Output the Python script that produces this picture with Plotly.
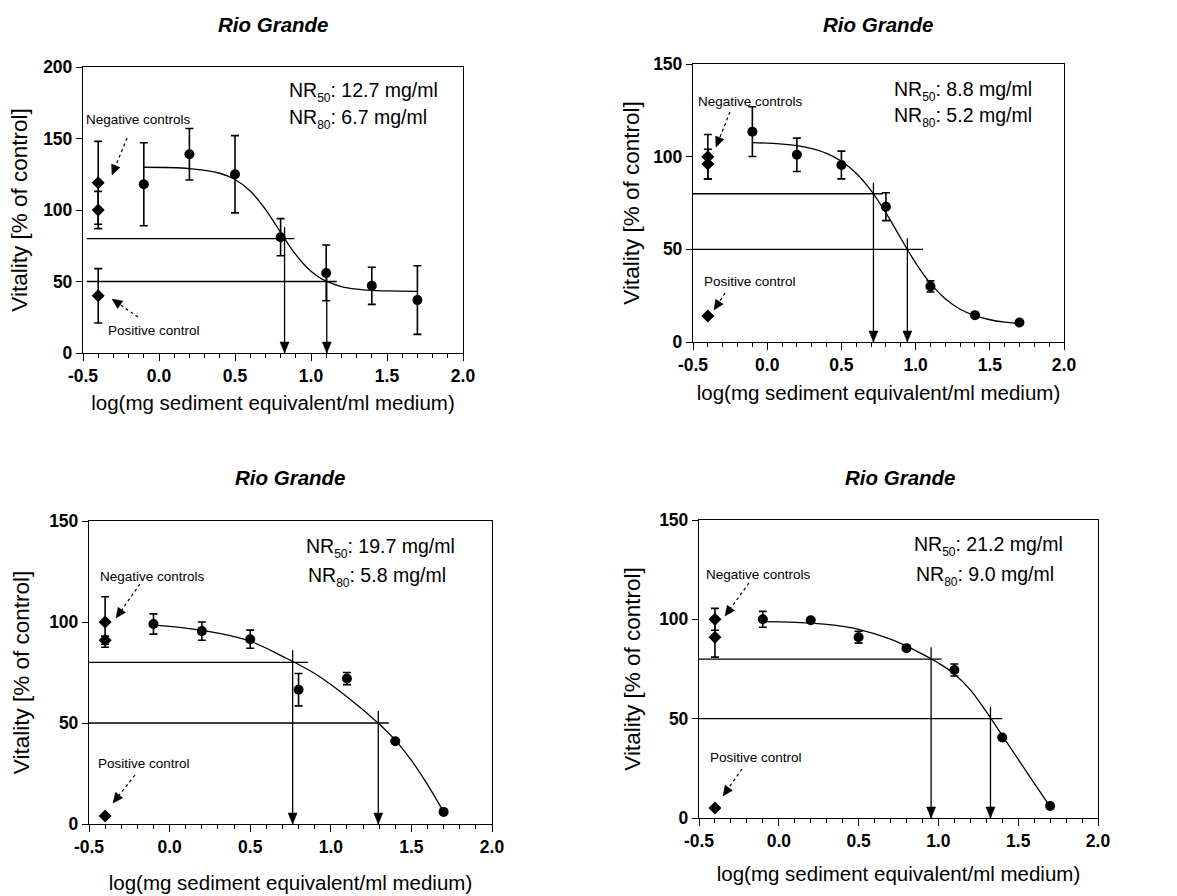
import math
import plotly.graph_objects as go

W, H = 1177, 896
FONT = "Liberation Sans, Arial, sans-serif"

# ---------------- data ----------------
titles = ["Rio Grande", "Rio Grande", "Rio Grande", "Rio Grande"]
x_title = "log(mg sediment equivalent/ml medium)"
y_title = "Vitality [% of control]"
y_max = [200, 150, 150, 150]
y_ticks = [[0, 50, 100, 150, 200], [0, 50, 100, 150], [0, 50, 100, 150], [0, 50, 100, 150]]
x_ticks = [-0.5, 0.0, 0.5, 1.0, 1.5, 2.0]
x_tick_labels = ["-0.5", "0.0", "0.5", "1.0", "1.5", "2.0"]

dose_x = [-0.1, 0.2, 0.5, 0.8, 1.1, 1.4, 1.7]
control_x = -0.4

vit1 = [118, 139, 125, 81, 56, 47, 37]
err1 = [29, 18, 27, 13, 19.5, 13, 24]
vit2 = [113.5, 101, 95.5, 73, 30, 14.5, 10.5]
err2 = [13.4, 9, 7.5, 7.5, 3, 0, 0]
vit3 = [99, 95.5, 91.5, 66.5, 72, 41, 6]
err3 = [5, 4.5, 4.5, 8, 3, 0, 0]
vit4 = [100, 99.5, 91, 85.5, 74.5, 40.5, 6]
err4 = [4, 0, 3, 0, 3, 0, 0]

neg1 = [119, 100]
neg_err1 = [29, 13]
neg2 = [100, 96]
neg_err2 = [12, 8]
neg3 = [100, 91]
neg_err3 = [12.5, 2]
neg4 = [100, 91]
neg_err4 = [5.5, 10]

pos_ctrl = [40, 14, 4, 5]
pos_err = [19, 0, 0, 0]

fit_x1 = [-0.1, 0.2, 0.4, 0.5, 0.6, 0.7, 0.75, 0.8, 0.85, 0.9, 0.95, 1.0, 1.05, 1.1, 1.2, 1.3, 1.4, 1.5, 1.7]
fit_y1 = [129.9, 129.0, 125.7, 121.3, 113.3, 100.5, 92.6, 84.3, 76.2, 68.8, 62.4, 57.2, 53.2, 50.2, 46.5, 44.7, 43.8, 43.4, 43.1]
fit_x2 = [-0.1, 0.2, 0.4, 0.5, 0.6, 0.7, 0.8, 0.9, 1.0, 1.1, 1.2, 1.3, 1.4, 1.5, 1.6, 1.7]
fit_y2 = [107.6, 105.9, 101.8, 97.5, 91.1, 81.7, 69.7, 56.0, 42.7, 31.6, 23.3, 17.7, 14.2, 12.0, 10.75, 10.0]
fit_x3 = [-0.1, 0.1, 0.3, 0.5, 0.7, 0.9, 1.1, 1.3, 1.4, 1.5, 1.6, 1.7]
fit_y3 = [98.5, 97.0, 94.5, 90.5, 83.0, 74.5, 63.0, 49.5, 41.5, 31.5, 19.5, 6.0]
fit_x4 = [-0.1, 0.1, 0.3, 0.5, 0.7, 0.9, 1.0, 1.1, 1.2, 1.3, 1.4, 1.5, 1.6, 1.7]
fit_y4 = [98.8, 98.5, 97.5, 95.0, 90.0, 82.5, 78.0, 72.5, 64.5, 53.5, 41.5, 29.5, 17.5, 5.7]

nr50 = [12.7, 8.8, 19.7, 21.2]
nr80 = [6.7, 5.2, 5.8, 9.0]

vits = [vit1, vit2, vit3, vit4]
errs = [err1, err2, err3, err4]
negs = [neg1, neg2, neg3, neg4]
neg_errs = [neg_err1, neg_err2, neg_err3, neg_err4]
fits_x = [fit_x1, fit_x2, fit_x3, fit_x4]
fits_y = [fit_y1, fit_y2, fit_y3, fit_y4]

# ---------------- layout geometry (pixels) ----------------
plot_box = [(83, 463, 67, 353), (693, 1064, 64, 342), (89, 492, 521, 824), (699, 1098, 520, 818)]
x_standoff = [10, 11, 19, 16]
y_standoff = [9, 7, 13, 12]
h_start = [-0.475, -0.5, -0.5, -0.5]
h80_end = [0.89, 0.78, 0.86, 1.02]
h50_end = [1.17, 1.05, 1.36, 1.40]
v80_top = [88, 86, 86, 86]
v50_top = [58, 56, 56, 56]
title_pos = [(273, 25), (878, 25), (290, 477), (900, 477)]
nr_pos = [((287, 92), (287, 119)), ((892, 91), (892, 117)), ((304, 548), (306, 577)), ((912, 546), (914, 576))]
neg_txt = [(138, 119), (750, 101), (152, 576), (758, 574)]
neg_arrow = [((127, 138), (112, 175)), ((730, 112), (716, 147)), ((140, 584), (116, 618)), ((749, 583), (725, 616))]
pos_txt = [(154, 331), (750, 282), (144, 763), (756, 757)]
pos_arrow = [((138, 317), (112, 299)), ((725, 293), (714, 310)), ((135, 775), (113, 803)), ((742, 769), (723, 796))]

SUB = "<span style='font-size:12px;baseline-shift:-5px'>%s</span>"


def px(x):
    return x / W


def py(y):
    return 1 - y / H


fig = go.Figure()
shapes = []
annotations = []

for i in range(4):
    n = "" if i == 0 else str(i + 1)
    xa, ya = "x" + n, "y" + n
    L, R, T, B = plot_box[i]

    # fitted curve
    fig.add_trace(go.Scatter(x=fits_x[i], y=fits_y[i], mode="lines", line=dict(color="black", width=1.3, shape="spline"),
                             xaxis=xa, yaxis=ya, showlegend=False, hoverinfo="skip"))
    # measured points
    fig.add_trace(go.Scatter(x=dose_x, y=vits[i], mode="markers",
                             marker=dict(symbol="circle", size=10, color="black"),
                             error_y=dict(type="data", array=errs[i], color="black", thickness=1.6, width=4),
                             xaxis=xa, yaxis=ya, showlegend=False, cliponaxis=False))
    # negative controls
    fig.add_trace(go.Scatter(x=[control_x, control_x], y=negs[i], mode="markers",
                             marker=dict(symbol="diamond", size=10, color="black"),
                             error_y=dict(type="data", array=neg_errs[i], color="black", thickness=1.6, width=4),
                             xaxis=xa, yaxis=ya, showlegend=False, cliponaxis=False))
    # positive control
    fig.add_trace(go.Scatter(x=[control_x], y=[pos_ctrl[i]], mode="markers",
                             marker=dict(symbol="diamond", size=10, color="black"),
                             error_y=dict(type="data", array=[pos_err[i]], color="black", thickness=1.6, width=4,
                                          visible=pos_err[i] > 0),
                             xaxis=xa, yaxis=ya, showlegend=False, cliponaxis=False))

    axis_common = dict(showline=True, linecolor="black", linewidth=1.3, mirror=True, showgrid=False,
                       zeroline=False, ticks="outside", tickcolor="black", tickwidth=1.3, automargin=False,
                       tickfont=dict(family=FONT, size=17.5, color="black"))
    fig.layout["xaxis" + n] = dict(axis_common, domain=[px(L), px(R)], anchor=ya, range=[-0.5, 2.0],
                                   tickvals=x_ticks, ticktext=["<b>%s</b>" % t for t in x_tick_labels], ticklen=7,
                                   minor=dict(dtick=0.1, ticks="outside", ticklen=4, tickcolor="black", tickwidth=1.2),
                                   title=dict(text=x_title, standoff=x_standoff[i],
                                              font=dict(family=FONT, size=20.5, color="black")))
    fig.layout["yaxis" + n] = dict(axis_common, domain=[py(B), py(T)], anchor=xa, range=[0, y_max[i]],
                                   tickvals=y_ticks[i], ticktext=["<b>%d</b>" % t for t in y_ticks[i]], ticklen=6,
                                   title=dict(text=y_title, standoff=y_standoff[i],
                                              font=dict(family=FONT, size=22.5, color="black")))

    # horizontal reference lines
    shapes.append(dict(type="line", xref=xa, yref=ya, x0=h_start[i], x1=h80_end[i], y0=80, y1=80,
                       line=dict(color="black", width=1.3)))
    shapes.append(dict(type="line", xref=xa, yref=ya, x0=h_start[i], x1=h50_end[i], y0=50, y1=50,
                       line=dict(color="black", width=1.3)))
    # vertical arrows down to the x axis (line + filled triangle head)
    for val, top in ((nr80[i], v80_top[i]), (nr50[i], v50_top[i])):
        lx = math.log10(val)
        shapes.append(dict(type="line", xref=xa, yref=ya, x0=lx, x1=lx, y0=top, y1=0,
                           line=dict(color="black", width=1.3)))
        shapes.append(dict(type="path", xref=xa, yref=ya, xsizemode="pixel", ysizemode="pixel",
                           xanchor=lx, yanchor=0, path="M 0 0 L -4.5 11 L 4.5 11 Z",
                           fillcolor="black", line=dict(color="black", width=0.5)))

    # title
    annotations.append(dict(x=px(title_pos[i][0]), y=py(title_pos[i][1]), xref="paper", yref="paper",
                            text=titles[i], showarrow=False, xanchor="center", yanchor="middle",
                            font=dict(family=FONT, size=20.5, color="black", weight="bold", style="italic")))
    # NR texts
    (a50, a80) = nr_pos[i]
    annotations.append(dict(x=px(a50[0]), y=py(a50[1]), xref="paper", yref="paper",
                            text="NR" + SUB % "50" + ": %.1f mg/ml" % nr50[i], showarrow=False, xanchor="left",
                            yanchor="middle", font=dict(family=FONT, size=19.5, color="black")))
    annotations.append(dict(x=px(a80[0]), y=py(a80[1]), xref="paper", yref="paper",
                            text="NR" + SUB % "80" + ": %.1f mg/ml" % nr80[i], showarrow=False, xanchor="left",
                            yanchor="middle", font=dict(family=FONT, size=19.5, color="black")))
    # control labels with dotted arrows
    for label, tp, arr in (("Negative controls", neg_txt[i], neg_arrow[i]), ("Positive control", pos_txt[i], pos_arrow[i])):
        annotations.append(dict(x=px(tp[0]), y=py(tp[1]), xref="paper", yref="paper", text=label,
                                showarrow=False, xanchor="center", yanchor="middle",
                                font=dict(family=FONT, size=13.5, color="black")))
        (tx, ty), (hx, hy) = arr
        d = math.hypot(tx - hx, ty - hy)
        ux, uy = (tx - hx) / d, (ty - hy) / d
        bx, by = hx + ux * 10, hy + uy * 10
        shapes.append(dict(type="line", xref="paper", yref="paper", x0=px(tx), y0=py(ty),
                           x1=px(bx), y1=py(by), line=dict(color="black", width=1.2, dash="dot")))
        p1 = (bx - uy * 4.5, by + ux * 4.5)
        p2 = (bx + uy * 4.5, by - ux * 4.5)
        shapes.append(dict(type="path", xref="paper", yref="paper",
                           path="M %.5f %.5f L %.5f %.5f L %.5f %.5f Z" % (px(hx), py(hy), px(p1[0]), py(p1[1]),
                                                                      px(p2[0]), py(p2[1])),
                           fillcolor="black", line=dict(color="black", width=0.5)))

fig.update_layout(width=W, height=H, margin=dict(l=0, r=0, t=0, b=0, pad=0, autoexpand=False), autosize=False,
                  paper_bgcolor="white", plot_bgcolor="white", shapes=shapes, annotations=annotations,
                  font=dict(family=FONT, color="black"))

fig.write_html("out.html", config={"displayModeBar": False}, post_script="document.body.style.margin='0';")
